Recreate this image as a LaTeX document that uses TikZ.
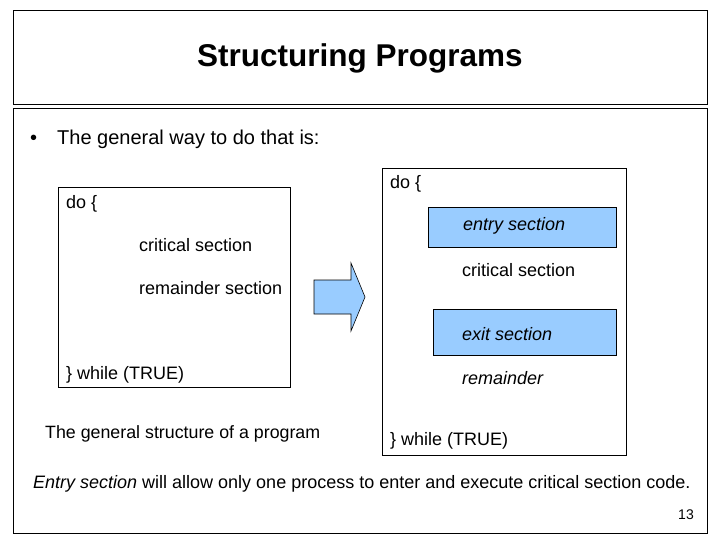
\documentclass[tikz,border=0pt]{standalone}
\usepackage{fontspec}
\setmainfont{Liberation Sans}
\definecolor{lb}{RGB}{153,204,255}
\begin{document}
\begin{tikzpicture}[x=1pt,y=-1pt,
  box/.style={draw=black,line width=0.6pt},
  blue/.style={draw=black,fill=lb,line width=0.6pt},
  t/.style={inner sep=0pt,anchor=west,font=\fontsize{18}{20}\selectfont}]
\useasboundingbox (0,0) rectangle (720,540);
\fill[white] (0,0) rectangle (720,540);
\draw[box] (13,10) rectangle (707,104);
\node[font=\bfseries\fontsize{31.5}{36}\selectfont] (title) at (360,58) {Structuring Programs};
\draw[box] (13,108) rectangle (707,533);
\node[t,font=\fontsize{20}{22}\selectfont] (b) at (30,139) {\textbullet\hspace{20pt}The general way to do that is:};
% left
\draw[box] (58,187) rectangle (290,387);
\node[t] (l1) at (66,204) {do \{};
\node[t] (l2) at (139,245) {critical section};
\node[t] (l3) at (139,288) {remainder section};
\node[t] (l4) at (66,375) {\} while (TRUE)};
\node[t,font=\fontsize{17.8}{20}\selectfont] (cap) at (45,434) {The general structure of a program};
% arrow
\draw[blue] (314,280) -- (351,280) -- (351,263) -- (365,297) -- (351,331) -- (351,314) -- (314,314) -- cycle;
% right
\draw[box] (382,168) rectangle (626,455);
\node[t] (r1) at (390,184) {do \{};
\draw[blue] (428,207) rectangle (616,247);
\node[t] (r2) at (463,226) {\itshape entry section};
\node[t] (r3) at (462,270) {critical section};
\draw[blue] (433,309) rectangle (616,355);
\node[t] (r4) at (462,334) {\itshape exit section};
\node[t] (r5) at (462,378) {\itshape remainder};
\node[t] (r6) at (390,441) {\} while (TRUE)};
\node[t,font=\fontsize{18}{20}\selectfont] (foot) at (33,484) {\itshape Entry section\upshape\ will allow only one process to enter and execute critical section code.};
\node[font=\fontsize{14}{16}\selectfont,anchor=east,inner sep=0pt] (pg) at (694,515) {13};
\end{tikzpicture}
\end{document}
